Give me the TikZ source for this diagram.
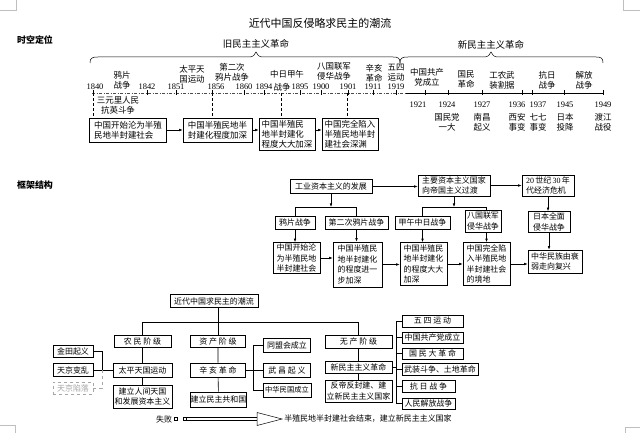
\documentclass[tikz,border=0pt]{standalone}
\usepackage{fontspec}
\newfontfamily\cjk{Noto Sans CJK SC}
\newfontfamily\lat{Liberation Serif}
\usetikzlibrary{arrows.meta}
\begin{document}
\begin{tikzpicture}[x=1bp,y=-1bp, line width=0.6bp,
  every node/.style={font=\cjk\fontsize{8}{10.5}\selectfont, inner sep=0pt},
  bx/.style={draw, align=left},
  bxc/.style={draw, align=center},
  sz/.style 2 args={minimum width=#1bp, minimum height=#2bp},
  tb/.style={font=\cjk\fontsize{8.5}{10}\selectfont},
  tl/.style={font=\cjk\fontsize{8.5}{10}\selectfont, align=center},
  yr/.style={font=\lat\fontsize{8.5}{10}\selectfont},
  hd/.style={font=\cjk\bfseries\fontsize{9}{10}\selectfont},
  arr/.style={-{Latex[length=3.5bp,width=2.6bp]}},
  dd/.style={densely dashed, line width=0.5bp},
  crop/.style={black!25, line width=0.5bp}]
\useasboundingbox (0,0) rectangle (640,433);
\fill[white] (0,0) rectangle (640,433);
% crop marks
\draw[crop] (16,0) -- (16,10) -- (0,10);
\draw[crop] (623,0) -- (623,10) -- (640,10);
\draw[crop] (0,425) -- (15,425) -- (15,433);
\draw[crop] (640,427) -- (625,427) -- (625,433);

% ---------- title and timeline ----------
\node[font=\cjk\fontsize{11}{12}\selectfont] (title) at (320,23) {近代中国反侵略求民主的潮流};
\node[hd] (h1) at (35,40) {时空定位};
\node[font=\cjk\fontsize{9.5}{10}\selectfont] (old) at (256,44) {旧民主主义革命};
\node[font=\cjk\fontsize{9.5}{10}\selectfont] (new) at (491,45) {新民主主义革命};
\draw[line width=0.5bp] (90,63) .. controls (90,58) and (92,57) .. (98,57) -- (249,57)
  .. controls (253,57) and (255,55) .. (256,52) .. controls (257,55) and (259,57) .. (263,57)
  -- (393,57) .. controls (398,57) and (400,58) .. (400,63);
\draw[line width=0.5bp] (400,63) .. controls (400,58) and (402,57) .. (408,57) -- (484,57)
  .. controls (488,57) and (490,55) .. (491,52) .. controls (492,55) and (494,57) .. (498,57)
  -- (596,57) .. controls (601,57) and (603,58) .. (603,63);
\draw[black!70, line width=0.5bp, dash pattern=on 3bp off 1.5bp on 1bp off 1.5bp] (92,93) -- (406,93);
\draw[line width=0.5bp] (406,93) -- (604,93);
\foreach \t in {93,147,176,212,244,264,300,321,348,373,396,425,448,482,522,532,564,603}
  \draw[line width=0.5bp] (\t,90.5) -- (\t,95);
% years
\node[yr] (y1840) at (95,87) {1840};
\node[yr] (y1842) at (147,87) {1842};
\node[yr] (y1851) at (176,87) {1851};
\node[yr] (y1856) at (216,87) {1856};
\node[yr] (y1860) at (244,87) {1860};
\node[yr] (y1894) at (264,87) {1894};
\node[yr] (y1895) at (300,87) {1895};
\node[yr] (y1900) at (321,87) {1900};
\node[yr] (y1901) at (348,87) {1901};
\node[yr] (y1911) at (373,87) {1911};
\node[yr] (y1919) at (396,87) {1919};
\node[yr] (y1921) at (418,105) {1921};
\node[yr] (y1924) at (447,105) {1924};
\node[yr] (y1927) at (482,105) {1927};
\node[yr] (y1936) at (517,105) {1936};
\node[yr] (y1937) at (538,105) {1937};
\node[yr] (y1945) at (565,105) {1945};
\node[yr] (y1949) at (603,105) {1949};
% events
\node[tl] (e1) at (122,80) {鸦片\\战争};
\node[tl] (e2) at (192,74) {太平天\\国运动};
\node[tl] (e3) at (232,72) {第二次\\鸦片战争};
\node[tl] (e4a) at (287,74) {中日甲午};
\node[tl] (e4b) at (282,87) {战争};
\node[tl] (e5) at (334,71) {八国联军\\侵华战争};
\node[tl] (e6) at (374,73) {辛亥\\革命};
\node[tl] (e7) at (396,73) {五四\\运动};
\node[tl] (e8) at (427,77) {中国共产\\党成立};
\node[tl] (e9) at (466,79) {国民\\革命};
\node[tl] (e10) at (502,80) {工农武\\装割据};
\node[tl] (e11) at (547,80) {抗日\\战争};
\node[tl] (e12) at (584,80) {解放\\战争};
\node[tl] (b1) at (118,105) {三元里人民\\抗英斗争};
\node[tl] (b2) at (447,122) {国民党\\一大};
\node[tl] (b3) at (482,122) {南昌\\起义};
\node[tl] (b4) at (517,122) {西安\\事变};
\node[tl] (b5) at (538,122) {七七\\事变};
\node[tl] (b6) at (565,122) {日本\\投降};
\node[tl] (b7) at (603,122) {渡江\\战役};
% boxes
\node[bx,tb,sz={77}{24}] (t1) at (128,130) {中国开始沦为半殖\\民地半封建社会};
\node[bx,tb,sz={69}{24}] (t2) at (217.5,130) {中国半殖民地半\\封建化程度加深};
\node[bx,tb,sz={56}{32}] (t3) at (287,134) {中国半殖民\\地半封建化\\程度大大加深};
\node[bx,tb,sz={56}{32}] (t4) at (350,134) {中国完全陷入\\半殖民地半封\\建社会深渊};
\coordinate (p1840) at (93,93);
\coordinate (p1856) at (212,93);
\coordinate (p1894) at (281,93);
\coordinate (p1901) at (347,93);
\draw[dd] (p1840) -- (p1840 |- t1.north);
\draw[dd] (p1856) -- (p1856 |- t2.north);
\draw[dd] (p1894) -- (p1894 |- t3.north);
\draw[dd] (p1901) -- (p1901 |- t4.north);
\draw[arr] (t1.east) -- (t1.east -| t2.west);
\draw[arr] (t2.east) -- (t2.east -| t3.west);
\draw[arr] (t3.east |- t2.east) -- (t4.west |- t2.east);

% ---------- framework ----------
\node[hd] (h2) at (35,185) {框架结构};
\node[bx,sz={82}{14}] (A) at (331,186.5) {工业资本主义的发展};
\node[bx,sz={72}{21}] (B) at (454,185.5) {主要资本主义国家\\向帝国主义过渡};
\node[bx,sz={52}{21}] (C) at (548,185.5) {{\lat 20}\,世纪\,{\lat 30}\,年\\代经济危机};
\node[bx,sz={40}{13}] (D) at (295,222.5) {鸦片战争};
\node[bx,sz={63}{13}] (E) at (356.5,222.5) {第二次鸦片战争};
\node[bx,sz={55}{13}] (F) at (422.5,222.5) {甲午中日战争};
\node[bx,sz={36}{22}] (G) at (483,221) {八国联军\\侵华战争};
\node[bx,sz={42}{21}] (H) at (549,222) {日本全面\\侵华战争};
\node[bx,sz={47}{31}] (I) at (296.5,258) {中国开始沦\\为半殖民地\\半封建社会};
\node[bx,sz={49}{45}] (J) at (357.5,264.5) {中国半殖民\\地半封建化\\的程度进一\\步加深};
\node[bx,sz={47}{43}] (K) at (423.5,264) {中国半殖民\\地半封建化\\的程度大大\\加深};
\node[bx,sz={47}{43}] (M) at (486.5,264) {中国完全陷\\入半殖民地\\半封建社会\\的境地};
\node[bx,sz={54}{23}] (L) at (555,261.5) {中华民族由衰\\弱走向复兴};
\draw[arr] (A.east) -- (A.east -| B.west);
\draw[arr] (B.east) -- (B.east -| C.west);
\coordinate (sa) at (331,207);
\coordinate (sb) at (454,207);
\draw[arr] (A.south) -- (sa);
\draw (D.north |- sa) -- (E.north |- sa);
\draw (D.north |- sa) -- (D.north);
\draw (E.north |- sa) -- (E.north);
\draw[arr] (B.south) -- (sb);
\draw (F.north |- sb) -- (M.north |- sb);
\draw (F.north |- sb) -- (F.north);
\draw (M.north |- sb) -- (M.north |- G.north);
\draw[arr] (C.south) -- (C.south |- H.north);
\draw[arr] (D.south) -- (D.south |- I.north);
\draw[arr] (E.south) -- (E.south |- J.north);
\draw[arr] (F.south) -- (F.south |- K.north);
\draw[arr] (M.north |- G.south) -- (M.north);
\draw[arr] (H.south) -- (H.south |- L.north);
\draw[arr] (I.east) -- (I.east -| J.west);
\draw[arr] (J.east) -- (J.east -| K.west);
\draw[arr] (K.east) -- (K.east -| M.west);
\draw[arr] (M.east) -- (M.east -| L.west);

% ---------- democracy tree ----------
\node[bx,sz={88}{13}] (cm) at (214,301) {近代中国求民主的潮流};
\node[bxc,sz={57}{12}] (nm) at (142.5,341) {农 民 阶 级};
\node[bxc,sz={59}{14}] (tp) at (142.5,370) {太平天国运动};
\node[bxc,sz={59}{23}] (jl) at (142.5,396.5) {建立人间天国\\和发展资本主义};
\node[bxc,sz={40}{12}] (jt) at (73,351) {金田起义};
\node[bxc,sz={40}{13}] (tjb) at (73,370) {天京变乱};
\node[bxc,sz={40}{12}, draw=black!35, text=black!35, dashed] (tjx) at (73,388) {天京陷落};
\node[bxc,sz={55}{12}] (zc) at (218,341) {资 产 阶 级};
\node[bxc,sz={55}{14}] (xh) at (218,370) {辛 亥 革 命};
\node[bxc,sz={54}{15}] (jm) at (218.5,399.5) {建立民主共和国};
\node[bxc,sz={47}{14}] (tm) at (287,345) {同盟会成立};
\node[bxc,sz={47}{14}] (wc) at (287,370) {武 昌 起 义};
\node[bxc,sz={48}{14}, font=\cjk\fontsize{7.3}{9}\selectfont] (zh) at (287,390) {中华民国成立};
\node[bxc,sz={67}{13}] (wz) at (358.5,341.5) {无 产 阶 级};
\node[bxc,sz={67}{12}] (xm) at (358.5,367) {新民主主义革命};
\node[bxc,sz={67}{22}] (fd) at (358.5,391) {反帝反封建、建\\立新民主主义国家};
\node[bxc,sz={61}{12}] (ws) at (432.5,321) {五 四 运 动};
\node[bxc,sz={61}{11}] (gc) at (432.5,337.5) {中国共产党成立};
\node[bxc,sz={61}{11}] (gm) at (432.5,353.5) {国 民 大 革 命};
\node[bxc,sz={76}{12}] (wd) at (440,369) {武装斗争、土地革命};
\node[bxc,sz={53}{12}] (kr) at (428.5,386) {抗 日 战 争};
\node[bxc,sz={53}{11}] (rj) at (428.5,403.5) {人民解放战争};
\coordinate (hb) at (0,322);
\draw (cm.south -| zc) -- (zc.north);
\draw (nm.north |- hb) -- (wz.north |- hb);
\draw (nm.north |- hb) -- (nm.north);
\draw (wz.north |- hb) -- (wz.north);
\draw (nm) -- (tp) -- (jl);
\draw (zc) -- (xh) -- (jm);
\draw (wz) -- (xm) -- (fd);
\coordinate (lb) at (102,370);
\draw (jt.east) -- (jt.east -| lb) -- (lb);
\draw (tjb) -- (tp);
\draw[black!35, dashed] (lb) -- (lb |- tjx.east) -- (tjx.east);
\coordinate (mb) at (253,370);
\draw (xh) -- (wc);
\draw (tm.west -| mb) -- (zh.west -| mb);
\draw (tm.west -| mb) -- (tm.west);
\draw (zh.west -| mb) -- (zh.west);
\coordinate (rb) at (396,367);
\draw (xm.east) -- (rb);
\draw (ws.west -| rb) -- (rj.west -| rb);
\foreach \b in {ws,gc,gm,wd,kr,rj} \draw (\b.west -| rb) -- (\b.west);
% result arrow
\node (fail) at (164,419) {失败};
\node[draw, minimum size=3bp, line width=0.5bp] (q1) at (176,419) {};
\node[draw, minimum size=3bp, line width=0.5bp] (q2) at (185,419) {};
\coordinate (de) at (257,419);
\draw[double distance=2.2bp, line width=0.5bp] (q2.east) -- (de);
\draw[line width=0.5bp] (257,412.5) -- (282,419) -- (257,425.5) -- cycle;
\node[anchor=west] (res) at (284,419) {半殖民地半封建社会结束，建立新民主主义国家};
\end{tikzpicture}
\end{document}
